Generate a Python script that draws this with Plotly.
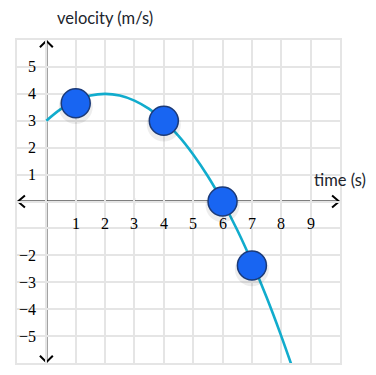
import plotly.graph_objects as go

# curve
curve_t = [0, 0.5, 1, 1.5, 2, 2.5, 3, 3.5, 4, 4.5, 5, 5.5, 6, 6.5, 7, 7.5, 8, 8.35]
curve_v = [3, 3.44, 3.75, 3.94, 4, 3.94, 3.75, 3.44, 3, 2.44, 1.75, 0.94, 0, -1.06, -2.25, -3.56, -5, -6.08]

# draggable points
point_t = [1, 4, 6, 7]
point_v = [3.65, 3.0, 0.0, -2.38]

x_tick_vals = [1, 2, 3, 4, 5, 6, 7, 8, 9]
x_tick_text = ["1", "2", "3", "4", "5", "6", "7", "8", "9"]
y_tick_vals = [5, 4, 3, 2, 1, -1, -2, -3, -4, -5]
y_tick_text = ["5", "4", "3", "2", "1", "", "−2", "−3", "−4", "−5"]

x_range = [-1, 10]
y_range = [-6, 6]

fig = go.Figure()

fig.add_trace(go.Scatter(x=curve_t, y=curve_v, mode="lines",
                         line=dict(color="#11accd", width=2.6, shape="spline"),
                         hoverinfo="skip", showlegend=False))

# soft shadow
fig.add_trace(go.Scatter(x=point_t, y=[v - 0.14 for v in point_v], mode="markers",
                         marker=dict(size=34, color="rgba(0,0,0,0.07)", line=dict(width=0)),
                         hoverinfo="skip", showlegend=False))
fig.add_trace(go.Scatter(x=point_t, y=point_v, mode="markers",
                         marker=dict(size=29, color="#1865f2",
                                     line=dict(color="#1b3a78", width=1.5)),
                         showlegend=False))

shapes = []
ax = dict(color="black", width=2)
# axes
shapes.append(dict(type="line", x0=x_range[0] + 0.03, x1=x_range[1] - 0.03, y0=0, y1=0, line=ax, layer="below"))
shapes.append(dict(type="line", x0=0, x1=0, y0=y_range[0] + 0.03, y1=y_range[1] - 0.03, line=ax, layer="below"))
# arrow chevrons
ah_x, ah_y = 0.24, 0.22
for sx in (-1, 1):
    tip = x_range[1] - 0.03 if sx == 1 else x_range[0] + 0.03
    path = f"M {tip - sx*ah_x},{ah_y} L {tip},0 L {tip - sx*ah_x},{-ah_y}"
    shapes.append(dict(type="path", path=path, line=ax, layer="below"))
ah_x2, ah_y2 = 0.22, 0.24
for sy in (-1, 1):
    tip = y_range[1] - 0.03 if sy == 1 else y_range[0] + 0.03
    path = f"M {-ah_x2},{tip - sy*ah_y2} L 0,{tip} L {ah_x2},{tip - sy*ah_y2}"
    shapes.append(dict(type="path", path=path, line=ax, layer="below"))
# tick marks
tk = dict(color="black", width=1.2)
for xv in x_tick_vals:
    shapes.append(dict(type="line", x0=xv, x1=xv, y0=-0.15, y1=0.15, line=tk, layer="below"))
for yv in y_tick_vals:
    shapes.append(dict(type="line", x0=-0.14, x1=0.14, y0=yv, y1=yv, line=tk, layer="below"))

annotations = []
tick_font = dict(family="Liberation Serif, DejaVu Serif, serif", size=16, color="black")
for xv, tx in zip(x_tick_vals, x_tick_text):
    annotations.append(dict(x=xv, y=-0.8, text=tx, showarrow=False, font=tick_font,
                            xanchor="center", yanchor="middle"))
for yv, tx in zip(y_tick_vals, y_tick_text):
    if tx:
        annotations.append(dict(x=-0.28, y=yv, text=tx, showarrow=False, font=tick_font,
                                xanchor="right", yanchor="middle"))

label_font = dict(family="Lato, sans-serif", size=16.5, color="#21242c")
annotations.append(dict(x=2.0, y=1.0, xref="x", yref="paper", yshift=22, text="velocity (m/s)",
                        showarrow=False, font=label_font, xanchor="center", yanchor="middle"))
annotations.append(dict(x=10.0, y=0.8, text="time (s)", showarrow=False, font=label_font,
                        xanchor="center", yanchor="middle"))

# page body has an 8px default margin, so the figure is sized and placed accordingly
fig.update_layout(
    width=368, height=367,
    margin=dict(l=9, r=36, t=32, b=12),
    paper_bgcolor="white", plot_bgcolor="white",
    xaxis=dict(range=x_range, dtick=1, tick0=0, showgrid=True, gridcolor="#e5e5e5", gridwidth=2,
               zeroline=False, showticklabels=False, ticks="", showline=True, linecolor="#e5e5e5",
               linewidth=2, mirror=True, fixedrange=True),
    yaxis=dict(range=y_range, dtick=1, tick0=0, showgrid=True, gridcolor="#e5e5e5", gridwidth=2,
               zeroline=False, showticklabels=False, ticks="", showline=True, linecolor="#e5e5e5",
               linewidth=2, mirror=True, fixedrange=True),
    shapes=shapes, annotations=annotations,
)

fig.write_html("out.html")
